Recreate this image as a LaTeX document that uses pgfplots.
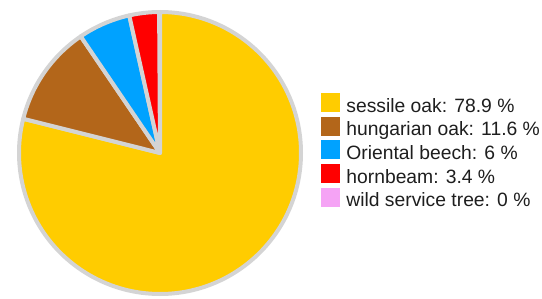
\documentclass[border=0pt]{standalone}
\usepackage{pgfplots}
\pgfplotsset{compat=1.18}
\usepackage{pgfplotstable}
\usepackage{fontspec}
\setmainfont{Liberation Sans}
\definecolor{cY}{HTML}{FFCC00}
\definecolor{cB}{HTML}{B3661A}
\definecolor{cL}{HTML}{00A2FF}
\definecolor{cR}{HTML}{FF0000}
\definecolor{cP}{HTML}{F5A3F5}
\definecolor{cG}{HTML}{D4D4D4}
\definecolor{cT}{HTML}{1E1E1E}

\pgfplotstableread[col sep=comma]{
name,pct
sessile oak,78.9
hungarian oak,11.6
Oriental beech,6
hornbeam,3.4
wild service tree,0
}\pietable

\pgfplotstablegetelem{0}{pct}\of\pietable \let\pA\pgfplotsretval
\pgfplotstablegetelem{1}{pct}\of\pietable \let\pB\pgfplotsretval
\pgfplotstablegetelem{2}{pct}\of\pietable \let\pC\pgfplotsretval
\pgfplotstablegetelem{3}{pct}\of\pietable \let\pD\pgfplotsretval
\pgfmathsetmacro\sA{90}
\pgfmathsetmacro\dA{-3.6*\pA}
\pgfmathsetmacro\sB{\sA+\dA}
\pgfmathsetmacro\dB{-3.6*\pB}
\pgfmathsetmacro\sC{\sB+\dB}
\pgfmathsetmacro\dC{-3.6*\pC}
\pgfmathsetmacro\sD{\sC+\dC}
\pgfmathsetmacro\dD{-3.6*\pD}

\newcommand\slice[3]{%
  \fill[fill=#3, draw=cG, line width=4pt, line join=round]
    (axis cs:160,145) -- (axis cs:{160+141*cos(#1)},{145+141*sin(#1)})
    arc[start angle=#1, delta angle=#2, radius=141pt] -- cycle;}

\begin{document}
\begin{tikzpicture}
\begin{axis}[
  x=1pt, y=1pt, xmin=0, xmax=542, ymin=0, ymax=298,
  scale only axis, hide axis, clip=false,
  legend cell align=left,
  legend style={at={(axis cs:321,205)}, anchor=north west, draw=none, fill=none,
    inner sep=0pt, outer sep=0pt, font=\fontsize{19.3}{23}\selectfont, text=cT,
    row sep=0.5pt,
    nodes={inner sep=0pt, text height=14pt, text depth=4pt, anchor=west}},
  /tikz/every odd column/.append style={column sep=7pt},
]
\path (axis cs:0,0) rectangle (axis cs:542,298);
\slice{\sA}{\dA}{cY}
\slice{\sB}{\dB}{cB}
\slice{\sC}{\dC}{cL}
\slice{\sD}{\dD}{cR}
\addlegendimage{legend image code/.code={\fill[cY] (0pt,-4pt) rectangle (18pt,14pt);}}
\addlegendentry{sessile oak: 78.9 \%}
\addlegendimage{legend image code/.code={\fill[cB] (0pt,-4pt) rectangle (18pt,14pt);}}
\addlegendentry{hungarian oak: 11.6 \%}
\addlegendimage{legend image code/.code={\fill[cL] (0pt,-4pt) rectangle (18pt,14pt);}}
\addlegendentry{Oriental beech: 6 \%}
\addlegendimage{legend image code/.code={\fill[cR] (0pt,-4pt) rectangle (18pt,14pt);}}
\addlegendentry{hornbeam: 3.4 \%}
\addlegendimage{legend image code/.code={\fill[cP] (0pt,-4pt) rectangle (18pt,14pt);}}
\addlegendentry{wild service tree: 0 \%}
\end{axis}
\end{tikzpicture}
\end{document}
